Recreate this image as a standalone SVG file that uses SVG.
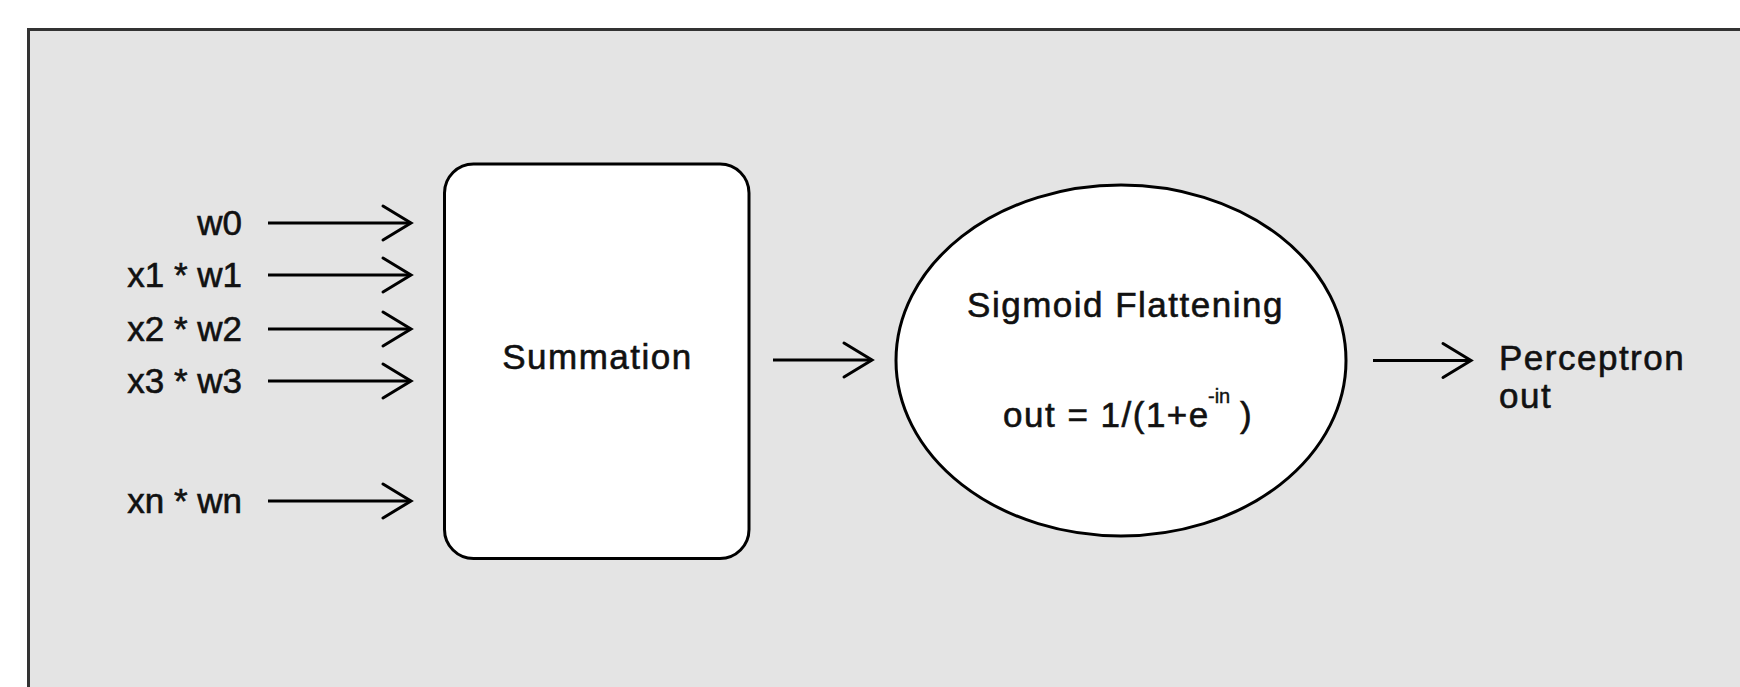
<svg xmlns="http://www.w3.org/2000/svg" width="1740" height="687" viewBox="0 0 1740 687">
  <style>
    .txt { font-family: "Liberation Sans", Arial, sans-serif; font-size: 35px; fill: #111; stroke: #111; stroke-width: 0.6px; }
    .word { letter-spacing: 1.5px; }
    .lbl { text-anchor: end; }
    .node { fill: #fff; stroke: #000; stroke-width: 3; }
    .conn { stroke: #000; stroke-width: 3; fill: none; marker-end: url(#chev); }
  </style>
  <defs>
    <marker id="chev" markerUnits="userSpaceOnUse" viewBox="0 0 36 40" markerWidth="36" markerHeight="40" refX="31" refY="20" orient="auto">
      <path d="M3,3 L31,20 L3,37" fill="none" stroke="#000" stroke-width="3" stroke-linejoin="miter" stroke-linecap="round"/>
    </marker>
  </defs>
  <rect x="0" y="0" width="1740" height="687" fill="#ffffff"/>
  <rect id="panel" x="28.5" y="29.5" width="1760" height="720" fill="#e4e4e4" stroke="#333333" stroke-width="3"/>

  <g id="connectors">
    <line class="conn" x1="268" y1="223" x2="411" y2="223"/>
    <line class="conn" x1="268" y1="275" x2="411" y2="275"/>
    <line class="conn" x1="268" y1="329" x2="411" y2="329"/>
    <line class="conn" x1="268" y1="381" x2="411" y2="381"/>
    <line class="conn" x1="268" y1="501" x2="411" y2="501"/>
    <line class="conn" x1="773" y1="360" x2="872" y2="360"/>
    <line class="conn" x1="1373" y1="360.5" x2="1471" y2="360.5"/>
  </g>

  <g id="inputs">
    <text class="txt lbl" x="242" y="235">w0</text>
    <text class="txt lbl" x="242" y="287">x1 * w1</text>
    <text class="txt lbl" x="242" y="341">x2 * w2</text>
    <text class="txt lbl" x="242" y="393">x3 * w3</text>
    <text class="txt lbl" x="242" y="513">xn * wn</text>
  </g>

  <g id="summation">
    <rect class="node" x="444.5" y="164" width="304.5" height="394.5" rx="29" ry="29"/>
    <text class="txt word" x="597.5" y="369" text-anchor="middle">Summation</text>
  </g>

  <g id="sigmoid">
    <ellipse class="node" cx="1121" cy="360.5" rx="225" ry="175.5"/>
    <text class="txt word" x="1125.5" y="317" text-anchor="middle">Sigmoid Flattening</text>
    <text class="txt word" x="1003" y="427">out = 1/(1+e</text>
    <text class="txt" x="1208" y="403" style="font-size:20px;stroke-width:0.4px">-in</text>
    <text class="txt" x="1240" y="427">)</text>
  </g>

  <g id="output">
    <text class="txt word" x="1499" y="370">Perceptron</text>
    <text class="txt word" x="1499" y="408">out</text>
  </g>
</svg>
